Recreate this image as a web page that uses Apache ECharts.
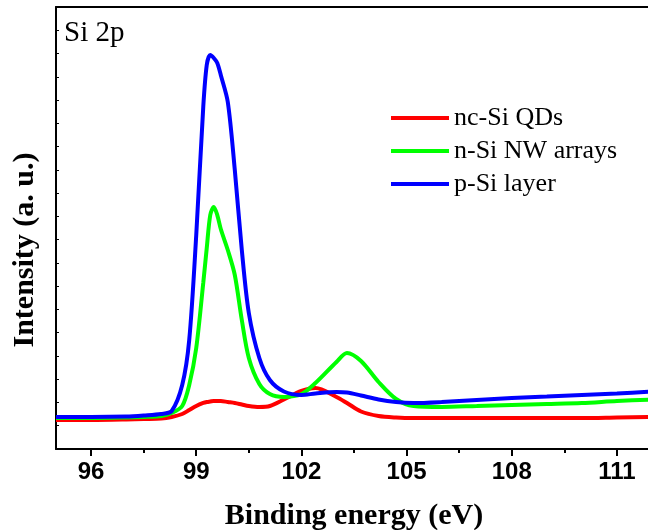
<!DOCTYPE html>
<html>
<head>
<meta charset="utf-8">
<script src="https://cdn.jsdelivr.net/npm/echarts@6/dist/echarts.min.js"></script>
<style>html,body{margin:0;padding:0;background:#fff}#c{width:648px;height:530px}</style>
</head>
<body>
<div id="c"></div>
<script>
// Binding energy grid (eV)
const energy = [95, 96, 97, 97.5, 98, 98.3, 98.6, 98.8, 99.0, 99.2, 99.3, 99.4, 99.5, 99.6, 99.7, 99.9, 100.1, 100.3, 100.5, 100.8, 101.1, 101.5, 102, 102.4, 103, 103.3, 103.7, 104.2, 104.7, 105.2, 106, 107, 108, 109, 110, 111, 112];
// Intensities (a. u.)
const ncSiQDs = [6.23, 6.23, 6.34, 6.45, 6.55, 6.88, 7.52, 8.38, 9.24, 9.89, 10.10, 10.21, 10.32, 10.32, 10.32, 10.10, 9.89, 9.56, 9.24, 9.03, 9.24, 10.64, 12.47, 13.11, 11.18, 9.89, 8.06, 7.09, 6.77, 6.66, 6.66, 6.66, 6.66, 6.66, 6.66, 6.77, 6.88];
const nSiNW = [6.66, 6.66, 6.77, 6.88, 7.09, 7.74, 9.24, 13.75, 21.71, 35.68, 43.20, 50.29, 52.01, 50.29, 47.28, 42.77, 37.40, 27.72, 19.56, 13.97, 11.82, 11.18, 11.82, 14.18, 18.70, 20.63, 18.91, 14.40, 10.75, 9.24, 9.03, 9.24, 9.46, 9.67, 9.89, 10.32, 10.64];
const pSiLayer = [6.88, 6.88, 6.98, 7.20, 7.52, 8.17, 13.75, 23.43, 45.99, 73.50, 82.53, 84.68, 84.03, 82.96, 80.38, 74.58, 59.96, 42.77, 29.23, 19.56, 14.83, 12.36, 11.61, 11.93, 12.25, 12.14, 11.50, 10.64, 10.10, 9.89, 10.10, 10.53, 10.96, 11.28, 11.61, 11.93, 12.36];
const seriesNames = ['nc-Si QDs', 'n-Si NW arrays', 'p-Si layer'];
const majorTicks = [96, 99, 102, 105, 108, 111];
const minorTicks = [97.5, 100.5, 103.5, 106.5, 109.5];
const yTitle = 'Intensity (a. u.)';

const chart = echarts.init(document.getElementById('c'));
const serif = 'Liberation Serif';
const pairs = arr => energy.map((e, i) => [e, arr[i]]);
const mk = (name, arr, color) => ({
  name, type: 'line', data: pairs(arr), showSymbol: false, smooth: 0.3,
  xAxisIndex: 0, yAxisIndex: 0,
  lineStyle: { color, width: 4 }, itemStyle: { color }, animation: false
});
chart.setOption({
  animation: false,
  title: { text: 'Si 2p', left: 59, top: 14, textStyle: { fontFamily: serif, fontSize: 29, fontWeight: 'normal', color: '#000' } },
  legend: {
    orient: 'vertical', left: 386, top: 100, icon: 'rect', itemWidth: 58, itemHeight: 4, itemGap: 7,
    data: seriesNames, itemStyle: { borderWidth: 0 },
    textStyle: { fontFamily: serif, fontSize: 26, lineHeight: 26, color: '#000' }
  },
  graphic: [{
    type: 'text', x: 12, y: 250, rotation: Math.PI / 2,
    style: { text: yTitle, fontFamily: serif, fontWeight: 'bold', fontSize: 30, fill: '#000', align: 'center', verticalAlign: 'middle' },
    x: 25
  }],
  grid: { left: 56, top: 7, width: 596, height: 442, outerBoundsMode: 'none', containLabel: false },
  xAxis: [{
    type: 'value', min: 95, max: 112, position: 'bottom',
    name: 'Binding energy (eV)', nameLocation: 'middle', nameGap: 52,
    nameTextStyle: { fontFamily: serif, fontWeight: 'bold', fontSize: 30, color: '#000' },
    axisLine: { show: true, lineStyle: { color: '#000', width: 2 } },
    axisTick: { show: true, inside: false, length: 7, lineStyle: { color: '#000', width: 2 }, customValues: majorTicks },
    axisLabel: { show: true, margin: 11, fontFamily: 'Liberation Sans', fontWeight: 'bold', fontSize: 24, color: '#000', customValues: majorTicks },
    splitLine: { show: false }
  }, {
    type: 'value', min: 95, max: 112, position: 'bottom', gridIndex: 0,
    axisLine: { show: false },
    axisTick: { show: true, length: 4, lineStyle: { color: '#000', width: 2 }, customValues: minorTicks },
    axisLabel: { show: false }, splitLine: { show: false }
  }, {
    type: 'value', min: 95, max: 112, position: 'top',
    axisLine: { show: true, lineStyle: { color: '#000', width: 2 } },
    axisTick: { show: false }, axisLabel: { show: false }, splitLine: { show: false }
  }],
  yAxis: {
    type: 'value', min: 0, max: 95, interval: 5,
    axisLine: { show: true, lineStyle: { color: '#000', width: 2 } },
    axisTick: { show: true, inside: true, length: 3, lineStyle: { color: '#000', width: 1 } },
    axisLabel: { show: false }, splitLine: { show: false }
  },
  series: [
    mk(seriesNames[0], ncSiQDs, '#ff0000'),
    mk(seriesNames[1], nSiNW, '#00ff00'),
    mk(seriesNames[2], pSiLayer, '#0000ff')
  ]
});
</script>
</body>
</html>
